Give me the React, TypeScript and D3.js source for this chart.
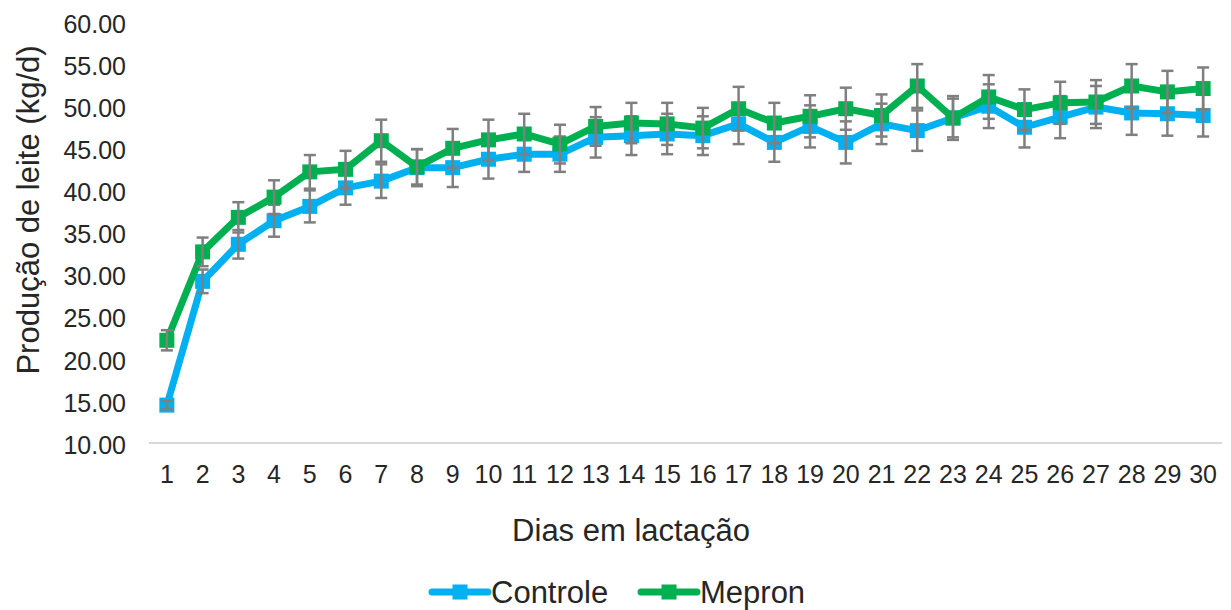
import React from 'react';
import * as d3 from 'd3';

const days = d3.range(1, 31).map(String);
const controle = [14.5, 29.2, 33.6, 36.4, 38.1, 40.3, 41.1, 42.7, 42.7, 43.7, 44.3, 44.3, 46.3, 46.5, 46.7, 46.5, 47.9, 45.7, 47.6, 45.7, 47.9, 47.1, 48.6, 50.0, 47.5, 48.7, 49.9, 49.2, 49.1, 48.9];
const controleErr = [0.5, 1.4, 1.7, 1.9, 1.9, 2.0, 2.0, 2.2, 2.3, 2.3, 2.1, 2.1, 2.4, 2.3, 2.4, 2.3, 2.4, 2.3, 2.5, 2.5, 2.4, 2.4, 2.3, 2.6, 2.4, 2.5, 2.5, 2.6, 2.6, 2.5];
const mepron = [22.2, 32.7, 36.8, 39.2, 42.2, 42.5, 45.9, 42.8, 45.0, 46.0, 46.7, 45.5, 47.6, 48.0, 47.9, 47.4, 49.7, 48.0, 48.8, 49.7, 48.9, 52.4, 48.6, 51.1, 49.6, 50.4, 50.5, 52.4, 51.7, 52.1];
const mepronErr = [1.2, 1.7, 1.8, 2.0, 2.0, 2.2, 2.5, 2.1, 2.3, 2.4, 2.4, 2.3, 2.3, 2.4, 2.5, 2.4, 2.6, 2.4, 2.5, 2.5, 2.5, 2.6, 2.6, 2.6, 2.4, 2.5, 2.6, 2.6, 2.5, 2.5];
const yTicks = d3.range(10, 60.01, 5);

const series = [
    {name: 'Controle', values: controle, err: controleErr, color: '#00B0F0'},
    {name: 'Mepron', values: mepron, err: mepronErr, color: '#00B050'}
];

const App = () => {
    const width = 1231;
    const height = 610;
    const font = 'Arial, "Liberation Sans", sans-serif';
    const textColor = '#262626';

    const x = d3.scaleBand().domain(days).range([149, 1221]);
    const y = d3.scaleLinear().domain([10, 60]).range([443, 22]);
    const cx = (d: string) => (x(d) as number) + x.bandwidth() / 2;

    const line = d3.line<number>()
        .x((d, i) => cx(days[i]))
        .y(d => y(d));

    const m = 15;

    return (
        <svg width={width} height={height} style={{position: 'absolute', left: 0, top: 0}}>
            <rect width={width} height={height} fill="#fff"/>
            {/* y tick labels */}
            {yTicks.map(t => (
                <text key={t} x={126} y={y(t) + 2} dy="0.35em" textAnchor="end"
                      fontFamily={font} fontSize={25} fill={textColor}>{t.toFixed(2)}</text>
            ))}
            {/* x axis */}
            <line x1={149} x2={1222} y1={y(10)} y2={y(10)} stroke="#d9d9d9" strokeWidth={2}/>
            {days.map(d => (
                <text key={d} x={cx(d)} y={474} dy="0.35em" textAnchor="middle"
                      fontFamily={font} fontSize={25} fill={textColor}>{d}</text>
            ))}
            <text transform="translate(28,210) rotate(-90)" textAnchor="middle" dy="0.35em"
                  fontFamily={font} fontSize={31} fill={textColor}>Produção de leite (kg/d)</text>
            <text x={631} y={530} dy="0.35em" textAnchor="middle"
                  fontFamily={font} fontSize={31} fill={textColor}>Dias em lactação</text>

            {/* series */}
            {series.map(s => (
                <g key={s.name}>
                    <path d={line(s.values) as string} fill="none" stroke={s.color} strokeWidth={7}
                          strokeLinejoin="round"/>
                    {s.values.map((v, i) => (
                        <rect key={i} x={cx(days[i]) - m / 2} y={y(v) - m / 2} width={m} height={m} fill={s.color}/>
                    ))}
                    {s.values.map((v, i) => {
                        const px = cx(days[i]);
                        const y0 = y(v - s.err[i]);
                        const y1 = y(v + s.err[i]);
                        return (
                            <g key={'e' + i} stroke="#7f7f7f" strokeWidth={2.5}>
                                <line x1={px} x2={px} y1={y0} y2={y1}/>
                                <line x1={px - 6} x2={px + 6} y1={y0} y2={y0}/>
                                <line x1={px - 6} x2={px + 6} y1={y1} y2={y1}/>
                            </g>
                        );
                    })}
                </g>
            ))}

            {/* legend */}
            {series.map((s, i) => {
                const lx = 432 + i * 209;
                const ly = 592;
                return (
                    <g key={s.name}>
                        <line x1={lx} x2={lx + 56} y1={ly} y2={ly} stroke={s.color} strokeWidth={7} strokeLinecap="round"/>
                        <rect x={lx + 28 - m / 2} y={ly - m / 2} width={m} height={m} fill={s.color}/>
                        <text x={lx + 59} y={ly} dy="0.35em" fontFamily={font} fontSize={31}
                              fill={textColor}>{s.name}</text>
                    </g>
                );
            })}
        </svg>
    );
};

export default App;
